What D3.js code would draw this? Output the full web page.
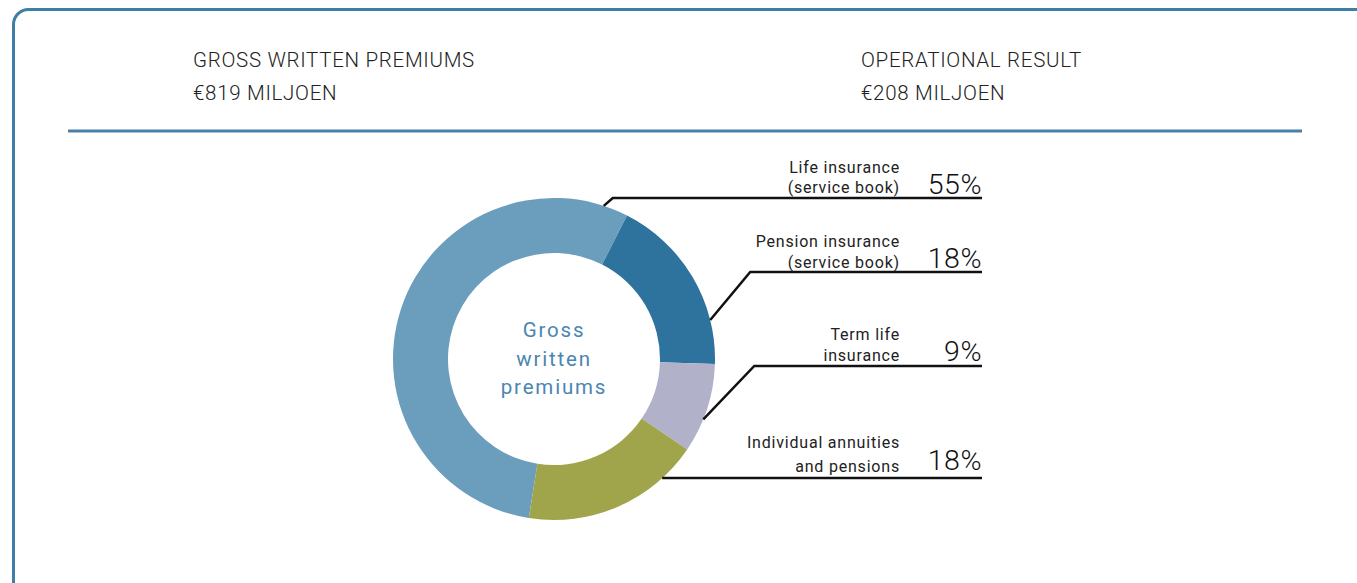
<!DOCTYPE html>
<html><head><meta charset="utf-8">
<script src="https://cdn.jsdelivr.net/npm/d3@7"></script>
<style>
html,body{margin:0;padding:0;background:#fff;}
svg{display:block;}
text{font-family:Roboto, "DejaVu Sans", sans-serif;}
</style></head>
<body>
<script>
const categories = ["Life insurance|(service book)", "Pension insurance|(service book)", "Term life|insurance", "Individual annuities|and pensions"];
const values = [55, 18, 9, 18];
const percentLabels = ["55%", "18%", "9%", "18%"];
const colors = ["#6b9ebd", "#2e729e", "#b1b2ca", "#a0a44a"];
const headerTitles = ["GROSS WRITTEN PREMIUMS", "OPERATIONAL RESULT"];
const headerValues = ["€819 MILJOEN", "€208 MILJOEN"];
const centerLabel = ["Gross", "written", "premiums"];

const W = 1357, H = 583;
const svg = d3.select("body").append("svg").attr("width", W).attr("height", H);

// frame
svg.append("rect").attr("x", 13.5).attr("y", 9.5).attr("width", W + 40).attr("height", H + 40)
  .attr("rx", 15).attr("fill", "none").attr("stroke", "#3f7ea6").attr("stroke-width", 3);
svg.append("line").attr("x1", 68).attr("x2", 1302).attr("y1", 131).attr("y2", 131)
  .attr("stroke", "#4a80a8").attr("stroke-width", 3);

// headers
const hx = [193, 861];
headerTitles.forEach((t, i) => {
  svg.append("text").attr("x", hx[i]).attr("y", 67).attr("font-size", 20.5).attr("fill", "#222")
    .attr("font-weight", 300).attr("letter-spacing", 0.7).text(t);
  svg.append("text").attr("x", hx[i]).attr("y", 100).attr("font-size", 20.5).attr("fill", "#222")
    .attr("font-weight", 300).attr("letter-spacing", 0.7).text(headerValues[i]);
});

// donut
const cx = 554, cy = 359, rOuter = 161, rInner = 106;
const deg = Math.PI / 180;
const start = -171 * deg;
const pie = d3.pie().sort(null).value(d => d).startAngle(start).endAngle(start + 2 * Math.PI);
const arcs = pie(values);
const arc = d3.arc().innerRadius(rInner).outerRadius(rOuter);
const g = svg.append("g").attr("transform", `translate(${cx},${cy})`);
g.selectAll("path").data(arcs).join("path").attr("d", arc).attr("fill", (d, i) => colors[i]);

// center label
centerLabel.forEach((t, i) => {
  g.append("text").attr("x", 0).attr("y", -22 + i * 28.5).attr("text-anchor", "middle")
    .attr("font-size", 20.5).attr("fill", "#4a86b0").attr("letter-spacing", 1.8).text(t);
});

// leader lines & labels (layout)
const anchorAngle = [18, 76, 112, 137.8];
const lineY = [198, 272, 366, 478];
const lineEnd = 982, labelX = 900;
const elbowDx = [9, 40, 51, 0];
const labelBase = [[173, 193], [247, 268], [340, 361], [448, 472]];
const pctBase = [194, 268, 361, 470];
arcs.forEach((a, i) => {
  const ang = anchorAngle[i] * deg;
  const px = cx + rOuter * Math.sin(ang), py = cy - rOuter * Math.cos(ang);
  const pts = elbowDx[i] > 0 ? [[px, py], [px + elbowDx[i], lineY[i]], [lineEnd, lineY[i]]]
                             : [[px, lineY[i]], [lineEnd, lineY[i]]];
  svg.append("path").attr("d", d3.line()(pts)).attr("fill", "none").attr("stroke", "#111").attr("stroke-width", 2.5);
  categories[i].split("|").forEach((t, j) => {
    svg.append("text").attr("x", labelX).attr("y", labelBase[i][j]).attr("text-anchor", "end")
      .attr("font-size", 16).attr("fill", "#222").attr("letter-spacing", 0.8).text(t);
  });
  svg.append("text").attr("x", lineEnd).attr("y", pctBase[i]).attr("text-anchor", "end")
    .attr("font-size", 28.5).attr("font-weight", 300).attr("fill", "#111").attr("letter-spacing", 0.5).text(percentLabels[i]);
});
</script>
</body></html>
